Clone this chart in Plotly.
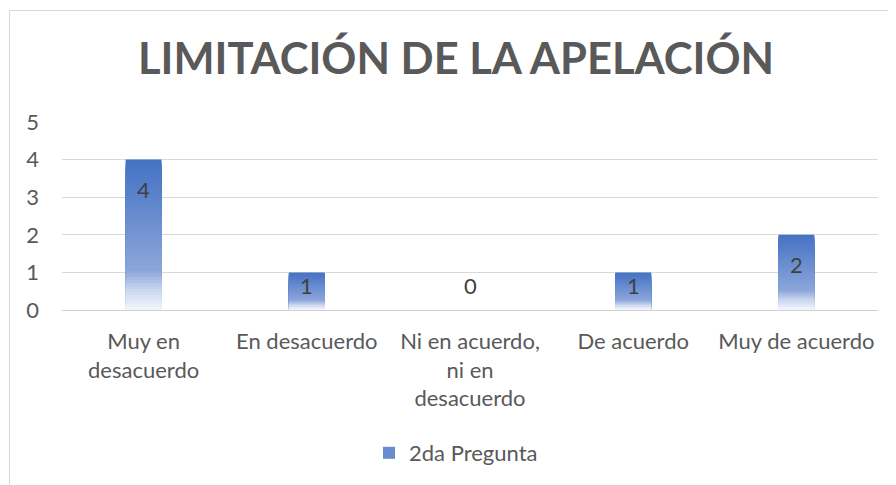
import plotly.graph_objects as go

categories = ["Muy en<br>desacuerdo", "En desacuerdo", "Ni en acuerdo,<br>ni en<br>desacuerdo", "De acuerdo", "Muy de acuerdo"]
values = [4, 1, 0, 1, 2]
series_name = "2da Pregunta"
title_text = "LIMITACIÓN DE LA APELACIÓN"
y_ticks = [0, 1, 2, 3, 4, 5]

# gradient stops (t = 0 at bar top, 1 at bar bottom)
stops = [(0.0, (0x44, 0x72, 0xC4)), (0.74, (0x8C, 0xA6, 0xDA)), (0.86, (0xC8, 0xD5, 0xEE)), (1.0, (0xF3, 0xF6, 0xFC))]


def grad_color(t):
    for (t0, c0), (t1, c1) in zip(stops[:-1], stops[1:]):
        if t <= t1:
            a = (t - t0) / (t1 - t0) if t1 > t0 else 0
            return "rgb(%d,%d,%d)" % tuple(round(c0[j] + (c1[j] - c0[j]) * a) for j in range(3))
    return "rgb(%d,%d,%d)" % stops[-1][1]


N = 50
fig = go.Figure()
for k in range(N):
    frac = (N - k) / N
    t = (k + 0.5) / N
    fig.add_trace(go.Bar(
        x=categories,
        y=[v * frac for v in values],
        width=0.22,
        marker=dict(color=grad_color(t), line=dict(width=0)),
        opacity=1,
        name=series_name,
        showlegend=(k == 18),
        hoverinfo="skip",
    ))

for c, v in zip(categories, values):
    fig.add_annotation(x=c, y=max(v - 0.8, 0.66), text=str(v), showarrow=False,
                       font=dict(family="Lato", size=22, color="#404040"))

# figure is placed 8px from the page corner (body margin)
W, H = 888, 477
L, R, T, B = 54, 18, 114, 175
pw, ph = W - L - R, H - T - B
fig.add_shape(type="rect", xref="paper", yref="paper",
              x0=(1.5 - L) / pw, x1=(W + 20 - L) / pw,
              y0=-(H + 20 - T - ph) / ph, y1=(H - B - 2.5) / ph,
              line=dict(color="#D9D9D9", width=1), fillcolor="rgba(0,0,0,0)", layer="below")

fig.update_layout(
    width=W, height=H,
    margin=dict(l=L, r=R, t=T, b=B, autoexpand=False),
    barmode="overlay",
    paper_bgcolor="white", plot_bgcolor="white",
    font=dict(family="Lato", size=22, color="#595959"),
    title=dict(text="<b>" + title_text + "</b>", x=(448 - L) / pw, xref="paper", xanchor="center",
               y=(H - 51) / H, yanchor="middle", yref="container",
               font=dict(family="Lato", size=43.5, color="#595959")),
    xaxis=dict(showgrid=False, showline=False, ticks="", ticklabelstandoff=16,
               tickfont=dict(family="Lato", size=22, color="#595959")),
    yaxis=dict(range=[0, 5], tickvals=y_ticks, showgrid=True, gridcolor="#D9D9D9", gridwidth=1,
               zeroline=True, zerolinecolor="#D0D0D0", zerolinewidth=1, showline=False,
               ticks="", ticklabelstandoff=22,
               tickfont=dict(family="Lato", size=22, color="#595959")),
    legend=dict(orientation="h", x=(361 - L) / pw, xanchor="left", y=(H - B - 445) / ph, yanchor="middle",
                font=dict(family="Lato", size=22, color="#595959"), bgcolor="rgba(0,0,0,0)"),
)

fig.write_html("out.html")
